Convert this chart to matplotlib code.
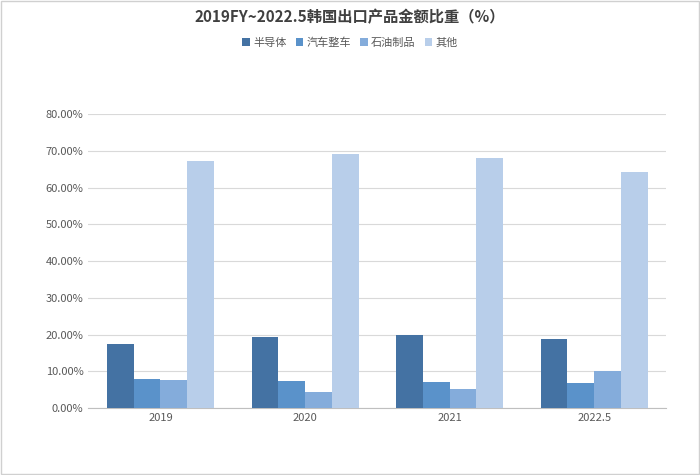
import numpy as np
import matplotlib.pyplot as plt
from matplotlib.ticker import FuncFormatter

plt.rcParams['font.family'] = ['Noto Sans CJK SC', 'DejaVu Sans']

years = ["2019", "2020", "2021", "2022.5"]
series_names = ["半导体", "汽车整车", "石油制品", "其他"]
semiconductor = [17.3, 19.3, 19.8, 18.7]
vehicles = [8.0, 7.4, 7.2, 6.8]
petroleum = [7.5, 4.3, 5.2, 10.1]
others = [67.3, 69.2, 67.9, 64.3]
colors = ["#4472A3", "#5A92CA", "#84ACDB", "#B8CEEA"]

fig = plt.figure(figsize=(7, 4.75), dpi=100)
fig.patches.append(plt.Rectangle((0.002, 0.002), 0.996, 0.996, transform=fig.transFigure,
                                 fill=False, edgecolor="#d0d0d0", linewidth=1))
ax = fig.add_axes([0.126, 0.141, 0.826, 0.619])

x = np.arange(len(years))
w = 0.185
for i, (vals, name) in enumerate(zip([semiconductor, vehicles, petroleum, others], series_names)):
    ax.bar(x + (i - 1.5) * w, vals, w, color=colors[i], label=name, zorder=3)

ax.set_ylim(0, 80)
ax.set_yticks(np.arange(0, 81, 10))
ax.yaxis.set_major_formatter(FuncFormatter(lambda v, p: f"{v:.2f}%"))
ax.set_xlim(-0.5, len(years) - 0.5)
ax.set_xticks(x)
ax.set_xticklabels(years)
ax.grid(axis="y", color="#d9d9d9", linewidth=0.8, zorder=0)
for s in ["top", "right", "left"]:
    ax.spines[s].set_visible(False)
ax.spines["bottom"].set_color("#bfbfbf")
ax.tick_params(axis="both", length=0, labelsize=8, colors="#595959")

fig.text(0.5, 0.963, "2019FY~2022.5韩国出口产品金额比重（%）", ha="center", va="center",
         fontsize=11, fontweight="bold", color="#404040")
fig.legend(loc="center", bbox_to_anchor=(0.5, 0.91), ncol=4, frameon=False, fontsize=8,
           handlelength=0.7, handleheight=0.7, columnspacing=0.8, handletextpad=0.3,
           labelcolor="#595959")

fig.savefig("out.png", dpi=100)
